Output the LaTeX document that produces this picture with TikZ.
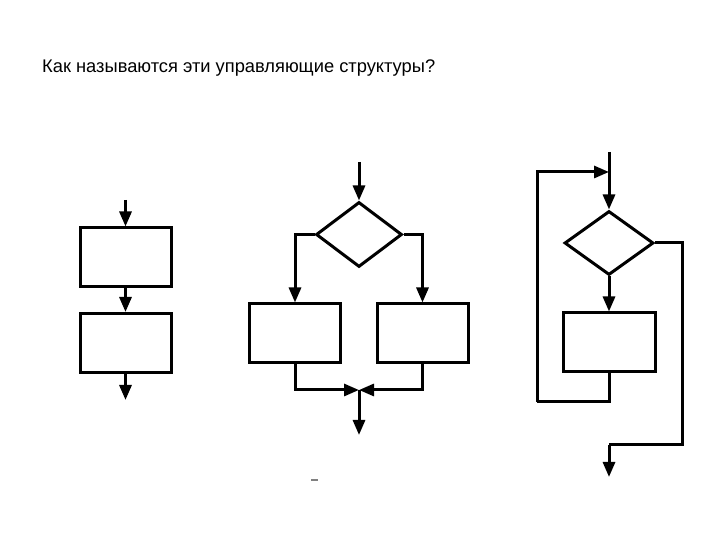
\documentclass[tikz,border=0pt]{standalone}
\usepackage{fontspec}
\setmainfont{Liberation Sans}
\usetikzlibrary{arrows.meta,shapes.geometric}
\begin{document}
\begin{tikzpicture}[x=1pt,y=1pt,
  box/.style={draw=black, line width=3pt, fill=white, rectangle, inner sep=0pt, minimum width=91pt, minimum height=59pt},
  dia/.style={draw=black, line width=3pt, fill=white, diamond, inner sep=0pt, minimum width=86pt, minimum height=65pt},
  ln/.style={draw=black, line width=3pt},
  arr/.style={ln, -{Triangle[length=15pt,width=12pt]}}]
\useasboundingbox (0,0) rectangle (720,540);
\fill[white] (0,0) rectangle (720,540);
\node[anchor=base west, font=\fontsize{18.3}{22}\selectfont, inner sep=0pt] (title) at (42,467.5) {Как называются эти управляющие структуры?};
% --- diagram 1: sequence
\coordinate (a0) at (125.5,340);
\node[box] (a1) at (125.5,282.5) {};
\node[box] (a2) at (125.5,197) {};
\coordinate (a3) at (125.5,140);
\draw[arr] (a0) -- (a1.north);
\draw[arr] (a1.south) -- (a2.north);
\draw[arr] (a2.south) -- (a3);
% --- diagram 2: branching
\coordinate (b0) at (359,378);
\node[dia] (b1) at (359,305.5) {};
\node[box] (b2) at (295,206.5) {};
\node[box] (b3) at (422.5,206.5) {};
\coordinate (m) at (359,150);
\coordinate (b4) at (359,105);
\draw[arr] (b0) -- (b1.north);
\draw[arr] (b1.west) -| (b2.north);
\draw[arr] (b1.east) -| (b3.north);
\draw[arr] (b2.south) |- (m);
\draw[arr] (b3.south) |- (m);
\draw[arr] (m) -- (b4);
\draw[line width=1.5pt, gray] (311,60) -- (318,60);
% --- diagram 3: loop
\coordinate (c0) at (609,388);
\coordinate (ci) at (609,368);
\coordinate (cl) at (537,368);
\node[dia, minimum width=89pt, minimum height=64pt] (c1) at (609,297) {};
\node[box, minimum width=92pt] (c2) at (609,197.5) {};
\coordinate (cb) at (537,138);
\coordinate (cr) at (682,95);
\coordinate (co) at (609,95);
\coordinate (c3) at (609,63);
\draw[arr] (c0) -- (c1.north);
\draw[arr] (c1.south) -- (c2.north);
\draw[ln] (c2.south) |- (cb);
\draw[arr] (cb) |- (ci);
\draw[ln] (c1.east) -| (cr) -- (co);
\draw[arr] (co) -- (c3);
\end{tikzpicture}
\end{document}
